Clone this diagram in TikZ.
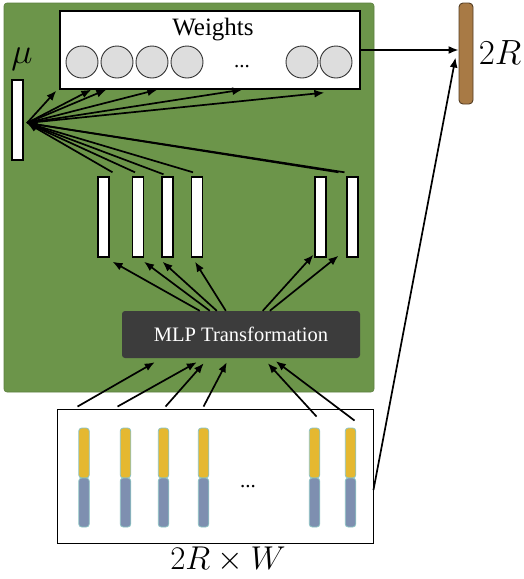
\documentclass[tikz,border=0pt]{standalone}
\usepackage{fix-cm}
\usepackage{fontspec}
\setmainfont{Liberation Serif}
\usetikzlibrary{arrows.meta,calc}
\definecolor{panelgreen}{RGB}{108,149,74}
\definecolor{mlpgray}{RGB}{60,60,60}
\definecolor{wcircle}{RGB}{221,221,221}
\definecolor{segyellow}{RGB}{229,184,48}
\definecolor{segblue}{RGB}{126,143,176}
\definecolor{segedge}{RGB}{140,195,195}
\definecolor{brownbar}{RGB}{168,122,69}
\newcommand\fsz[1]{\fontsize{#1}{#1}\selectfont}
\begin{document}
\begin{tikzpicture}[x=1pt,y=-1pt,
  arr/.style={line width=1.7pt,-{Latex[length=10pt,width=8pt]}},
  panel/.style={fill=panelgreen,draw=panelgreen!85!black,line width=0.6pt,rounded corners=3pt,minimum width=370pt,minimum height=389pt,inner sep=0pt},
  whitebar/.style={draw=black,fill=white,line width=1.4pt,minimum width=11pt,minimum height=80pt,inner sep=0pt},
  wcirc/.style={circle,draw=black!80,fill=wcircle,line width=0.9pt,minimum size=32pt,inner sep=0pt},
  segy/.style={draw=segedge,fill=segyellow,line width=0.8pt,rounded corners=3pt,minimum width=10.5pt,minimum height=50pt,inner sep=0pt},
  segb/.style={draw=segedge,fill=segblue,line width=0.8pt,rounded corners=3pt,minimum width=10.5pt,minimum height=49pt,inner sep=0pt}
]
\useasboundingbox (0,0) rectangle (523,579);
% green panel
\node[panel] (panel) at (189,197.5) {};
% weights box
\node[draw=black,fill=white,line width=1.3pt,minimum width=300pt,minimum height=78pt,inner sep=0pt] (wbox) at (210,50) {};
\node[font=\fsz{25}] (wlabel) at (213,30) {Weights};
\node[wcirc] (c1) at (82,62) {};
\node[wcirc] (c2) at (117,62) {};
\node[wcirc] (c3) at (152,62) {};
\node[wcirc] (c4) at (187,62) {};
\node[wcirc] (c5) at (302,62) {};
\node[wcirc] (c6) at (336,62) {};
\node[font=\fsz{21},anchor=base] (wdots) at (242,67) {...};
% mu
\node[font=\fsz{36}] (mulabel) at (22,59) {$\mu$};
\node[whitebar] (mu) at (17.5,120) {};
\coordinate (hub) at (27,123);
% middle bars
\node[whitebar] (b1) at (103.5,217) {};
\node[whitebar] (b2) at (138,217) {};
\node[whitebar] (b3) at (167.5,217) {};
\node[whitebar] (b4) at (197,217) {};
\node[whitebar] (b5) at (320.5,217) {};
\node[whitebar] (b6) at (352.5,217) {};
% MLP
\node[fill=mlpgray,rounded corners=3pt,minimum width=238pt,minimum height=47pt,inner sep=0pt,text=white,font=\fsz{20.5}] (mlp) at (241,334.5) {MLP Transformation};
% bottom box
\node[draw=black,line width=0.9pt,minimum width=316pt,minimum height=134pt,inner sep=0pt] (bbox) at (215,476) {};
\node[segy] (y1) at (84,453) {};  \node[segb] (z1) at (84,502.5) {};
\node[segy] (y2) at (125.5,453) {}; \node[segb] (z2) at (125.5,502.5) {};
\node[segy] (y3) at (163.5,453) {}; \node[segb] (z3) at (163.5,502.5) {};
\node[segy] (y4) at (203.5,453) {}; \node[segb] (z4) at (203.5,502.5) {};
\node[segy] (y5) at (314.5,453) {}; \node[segb] (z5) at (314.5,502.5) {};
\node[segy] (y6) at (350.5,453) {}; \node[segb] (z6) at (350.5,502.5) {};
\node[font=\fsz{21},anchor=base] (bdots) at (248,487) {...};
\node[font=\fsz{33}] (bwlabel) at (228,560) {$2R\times W$};
% brown bar
\node[draw=brownbar!50!black,fill=brownbar,line width=0.9pt,rounded corners=4pt,minimum width=14pt,minimum height=101pt,inner sep=0pt] (brown) at (466,53.5) {};
\node[font=\fsz{35}] (rlabel) at (500,53) {$2R$};
% mu -> weights
\draw[arr] (hub) -- ($(wbox.south west)+(-3,1)$);
\draw[arr] (hub) -- ($(wbox.south west)+(32,0)$);
\draw[arr] (hub) -- ($(wbox.south west)+(47,0)$);
\draw[arr] (hub) -- ($(wbox.south west)+(98,0)$);
\draw[arr] (hub) -- ($(wbox.south west)+(183,0)$);
\draw[arr] (hub) -- ($(wbox.south west)+(265,3)$);
% bars -> mu
\draw[arr] ($(b1.north)+(9,-4)$) -- (hub);
\draw[arr] ($(b2.north)+(-3,-4)$) -- (hub);
\draw[arr] ($(b3.north)+(-4,-2)$) -- (hub);
\draw[arr] ($(b4.north)+(-4,-4)$) -- (hub);
\draw[arr] ($(b5.north)+(18,-4)$) -- (hub);
\draw[arr] ($(b6.north)+(-8,-4)$) -- (hub);
% MLP -> bars
\draw[arr] ($(mlp.north west)+(78,0)$) -- ($(b1.south)+(9,4)$);
\draw[arr] ($(mlp.north west)+(88,0)$) -- ($(b2.south)+(6,4)$);
\draw[arr] ($(mlp.north west)+(95,0)$) -- ($(b3.south)+(-5,4)$);
\draw[arr] ($(mlp.north west)+(104,0)$) -- ($(b4.south)+(-2,4)$);
\draw[arr] ($(mlp.north west)+(141,0)$) -- ($(b5.south)+(-7,-3)$);
\draw[arr] ($(mlp.north west)+(148,0)$) -- ($(b6.south)+(-14,-2)$);
% bottom -> MLP
\draw[arr] ($(bbox.north west)+(21,-2)$) -- ($(mlp.south west)+(33,4)$);
\draw[arr] ($(bbox.north west)+(61,-2)$) -- ($(mlp.south west)+(75,4)$);
\draw[arr] ($(bbox.north west)+(109,-2)$) -- ($(mlp.south west)+(82,5)$);
\draw[arr] ($(bbox.north west)+(147,-2)$) -- ($(mlp.south west)+(105,4)$);
\draw[arr] ($(bbox.north west)+(260,8)$) -- ($(mlp.south west)+(146,5)$);
\draw[arr] ($(bbox.north west)+(298,12)$) -- ($(mlp.south west)+(154,3)$);
% to brown bar
\draw[arr] (wbox.east) -- (wbox.east -| brown.west);
\draw[arr] ($(bbox.east)+(0,14)$) -- ($(brown.west)+(-3,4)$);
\end{tikzpicture}
\end{document}
